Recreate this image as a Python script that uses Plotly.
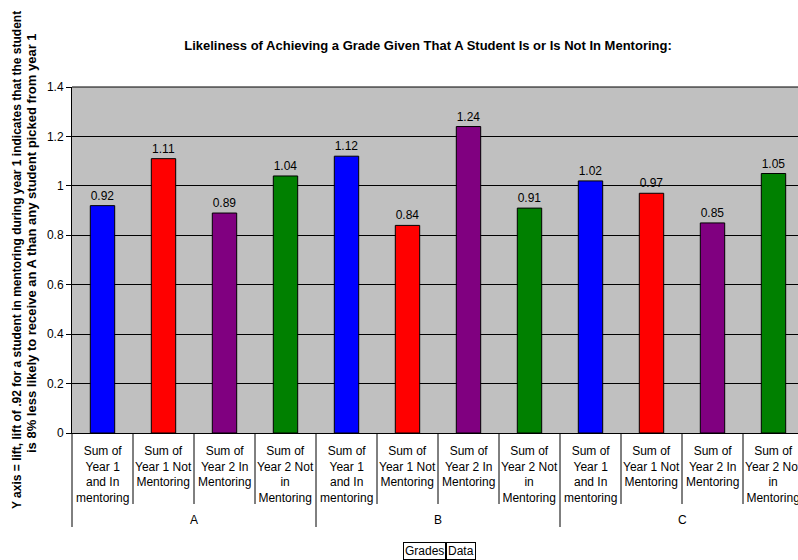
import plotly.graph_objects as go

# Pivot-chart data: lift per grade and mentoring measure
grades = ["A", "B", "C"]
measures = [
    "Sum of<br>Year 1<br>and In<br>mentoring",
    "Sum of<br>Year 1 Not<br>Mentoring",
    "Sum of<br>Year 2 In<br>Mentoring",
    "Sum of<br>Year 2 Not<br>in<br>Mentoring",
]
measure_colors = ["#0000FF", "#FF0000", "#800080", "#008000"]
lift = [0.92, 1.11, 0.89, 1.04,
        1.12, 0.84, 1.24, 0.91,
        1.02, 0.97, 0.85, 1.05]
y_ticks = [0, 0.2, 0.4, 0.6, 0.8, 1, 1.2, 1.4]
y_tick_text = ["0", "0.2", "0.4", "0.6", "0.8", "1", "1.2", "1.4"]

FONT = "Arial, Liberation Sans, sans-serif"
W, H = 798, 560
L, T, B = 72, 87, 127
plot_w, plot_h = W - L, H - T - B
cat_px = 61  # pixel width of one category slot

n_meas = len(measures)
pos = list(range(len(lift)))
colors = [measure_colors[i % n_meas] for i in pos]


def py(pix):
    """Page pixel row -> paper y."""
    return (H - B - pix) / plot_h


def px(pix):
    """Page pixel column -> paper x."""
    return (pix - L) / plot_w


fig = go.Figure(
    go.Bar(
        x=pos,
        y=lift,
        marker=dict(color=colors, line=dict(color="black", width=1)),
        text=[f"{v:.2f}" for v in lift],
        textposition="outside",
        textfont=dict(family=FONT, size=12, color="#000000"),
        cliponaxis=False,
        hoverinfo="skip",
    )
)

annotations = []
# category labels under each bar
for i in pos:
    annotations.append(dict(
        x=i, xref="x", xanchor="center", y=py(442), yref="paper", yanchor="top",
        text=measures[i % n_meas], showarrow=False, align="center",
        font=dict(family=FONT, size=12, color="#000000"),
    ))
# grade labels under each group
for g, name in enumerate(grades):
    annotations.append(dict(
        x=g * n_meas + (n_meas - 1) / 2, xref="x", xanchor="center",
        y=py(520), yref="paper", yanchor="middle",
        text=name, showarrow=False,
        font=dict(family=FONT, size=12, color="#000000"),
    ))
# rotated y-axis caption (two lines)
annotations.append(dict(
    x=px(17), xref="paper", xanchor="center", y=py(260), yref="paper", yanchor="middle",
    textangle=-90,
    text="<b>Y axis = lift, lift of .92 for a student in mentoring during year 1 indicates that the student</b>",
    showarrow=False, font=dict(family=FONT, size=12, color="#000000"),
))
annotations.append(dict(
    x=px(31.5), xref="paper", xanchor="center", y=py(243.5), yref="paper", yanchor="middle",
    textangle=-90,
    text="<b>is 8% less likely to receive an A than any student picked from year 1</b>",
    showarrow=False, font=dict(family=FONT, size=13, color="#000000"),
))
# pivot field buttons
annotations.append(dict(
    x=px(446), xref="paper", xanchor="right", y=py(551), yref="paper", yanchor="middle",
    text="Grades", showarrow=False, bordercolor="black", borderwidth=1, borderpad=1,
    font=dict(family=FONT, size=12, color="#000000"),
))
annotations.append(dict(
    x=px(446), xref="paper", xanchor="left", y=py(551), yref="paper", yanchor="middle",
    text="Data", showarrow=False, bordercolor="black", borderwidth=1, borderpad=1,
    font=dict(family=FONT, size=12, color="#000000"),
))

shapes = []
# category dividers in the axis table
for k in range(1, len(lift)):
    is_group = k % n_meas == 0
    shapes.append(dict(
        type="line", xref="x", yref="paper",
        x0=k - 0.5, x1=k - 0.5, y0=0, y1=py(527 if is_group else 504),
        line=dict(color="black", width=1),
    ))
# left edge of the table
shapes.append(dict(
    type="line", xref="paper", yref="paper", x0=0, x1=0, y0=0, y1=py(527),
    line=dict(color="black", width=1),
))
# top border of plot area
shapes.append(dict(
    type="line", xref="paper", yref="paper", x0=0, x1=1, y0=1, y1=1,
    line=dict(color="black", width=1),
))

fig.update_layout(
    width=W, height=H,
    margin=dict(l=L, r=0, t=T, b=B, pad=0),
    paper_bgcolor="white",
    plot_bgcolor="#C0C0C0",
    bargap=0.6,
    showlegend=False,
    font=dict(family=FONT, size=12, color="#000000"),
    title=dict(
        text="<b>Likeliness of Achieving a Grade Given That A Student Is or Is Not In Mentoring:</b>",
        x=428 / W, xref="container", xanchor="center",
        y=1 - 45 / H, yref="container", yanchor="middle",
        font=dict(family=FONT, size=13, color="#000000"),
    ),
    xaxis=dict(
        range=[-0.5, -0.5 + plot_w / cat_px],
        showline=True, linecolor="black", linewidth=1,
        showticklabels=False, ticks="", showgrid=False, zeroline=False,
    ),
    yaxis=dict(
        range=[0, 1.4],
        tickvals=y_ticks, ticktext=y_tick_text,
        ticks="outside", ticklen=5, tickcolor="black",
        showline=True, linecolor="black", linewidth=1,
        showgrid=True, gridcolor="black", gridwidth=1,
        zeroline=False,
        tickfont=dict(family=FONT, size=12, color="#000000"),
    ),
    annotations=annotations,
    shapes=shapes,
)

fig.write_html("out.html")
